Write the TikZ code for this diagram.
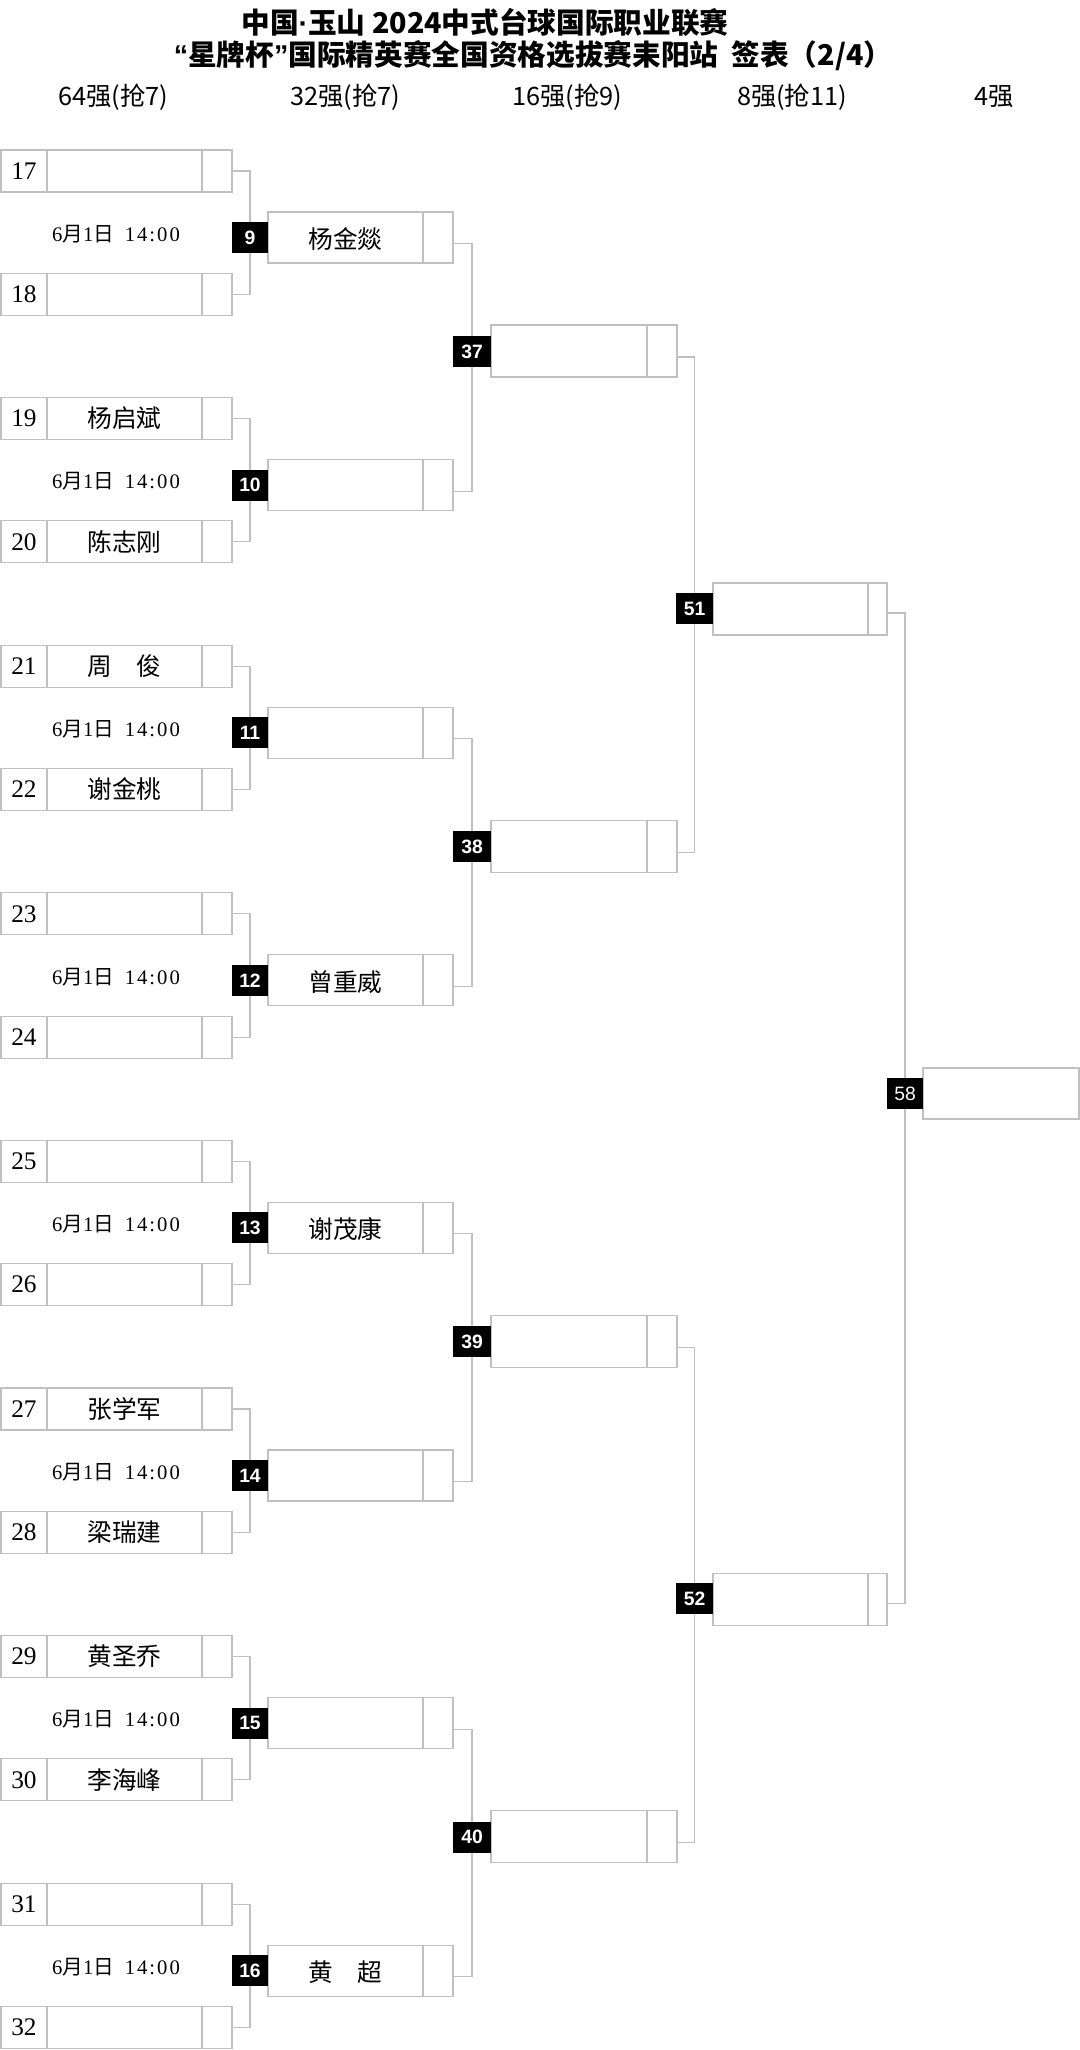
\documentclass[tikz,border=0pt]{standalone}
\usepackage{fontspec}
\setmainfont{Liberation Serif}
\newfontfamily\cjk{Noto Sans CJK SC}
\newfontfamily\arialf{Liberation Sans}
\usetikzlibrary{calc}
\pgfdeclarelayer{paper}
\pgfdeclarelayer{wires}
\pgfsetlayers{paper,wires,main}
\definecolor{lineg}{RGB}{192,192,192}
\tikzset{
  frame/.style={draw=lineg, line width=0.8pt, rectangle, inner sep=0pt, outer sep=0pt, anchor=north west},
  divl/.style={draw=lineg, line width=0.8pt},
  conn/.style={draw=lineg, line width=0.8pt},
  badge/.style={fill=black, text=white, inner sep=0pt, outer sep=0pt, minimum height=23.25pt, anchor=center,
    font=\arialf\bfseries\fontsize{14.5}{14.5}\selectfont},
  nametxt/.style={inner sep=0pt, font=\cjk\fontsize{18.5}{18.5}\selectfont},
  numtxt/.style={inner sep=0pt, font=\fontsize{19}{19}\selectfont},
  datetxt/.style={inner sep=0pt, font=\fontsize{15.5}{15.5}\selectfont},
  headtxt/.style={inner sep=0pt, font=\cjk\fontsize{19}{19}\selectfont},
  titletxt/.style={inner sep=0pt, font=\cjk\bfseries\fontsize{21.5}{21.5}\selectfont}
}
\begin{document}
\begin{tikzpicture}[x=0.75pt,y=-0.75pt]
\begin{pgfonlayer}{paper}
\fill[white] (0,0) rectangle (1080,2050);
\end{pgfonlayer}
\useasboundingbox (0,0) rectangle (1080,2050);

% titles
\node[titletxt] (t1) at (485,22) {中国{\arialf\bfseries ·}玉山 2024中式台球国际职业联赛};
\node[titletxt] (t2) at (533,56) {{\arialf\bfseries “}星牌杯{\arialf\bfseries ”}国际精英赛全国资格选拔赛耒阳站\ \ 签表（2/4）};

% headers
\node[headtxt] (h1) at (113,97) {64强(抢7)};
\node[headtxt] (h2) at (345,97) {32强(抢7)};
\node[headtxt] (h3) at (567,97) {16强(抢9)};
\node[headtxt] (h4) at (792,97) {8强(抢11)};
\node[headtxt] (h5) at (994,97) {4强};

% round 1
\foreach \n/\nm [count=\i from 0] in {17/{},18/{},19/杨启斌,20/陈志刚,21/周　俊,22/谢金桃,23/{},24/{},25/{},26/{},27/张学军,28/梁瑞建,29/黄圣乔,30/李海峰,31/{},32/{}}{
  \pgfmathsetmacro\py{150+floor(\i/2)*247.6+mod(\i,2)*123.3}
  \node[frame, minimum width=173.25pt, minimum height=31.5pt] (p\n) at (1,\py) {};
  \draw[divl] (47,\py) -- (47,\py+42);
  \draw[divl] (202,\py) -- (202,\py+42);
  \node[numtxt] (pn\n) at (24,\py+21) {\n};
  \node[nametxt] (pm\n) at (124.5,\py+21) {\nm};
}

% dates
\foreach \j in {0,...,7}{
  \pgfmathsetmacro\dy{234+\j*247.6}
  \node[datetxt] (d\j) at (116,\dy) {6{\cjk 月}1{\cjk 日}\hspace{8pt}1\hspace{1.5pt}4\hspace{1.5pt}:\hspace{1.5pt}0\hspace{1.5pt}0};
}

% round 2
\foreach \m/\nm [count=\j from 0] in {9/杨金燚,10/{},11/{},12/曾重威,13/谢茂康,14/{},15/{},16/黄　超}{
  \pgfmathsetmacro\py{212+\j*247.6}
  \node[frame, minimum width=138.75pt, minimum height=38.25pt] (m\m) at (268,\py) {};
  \draw[divl] (423,\py) -- (423,\py+51);
  \node[nametxt] (mm\m) at (345.5,\py+27) {\nm};
  \node[badge, minimum width=27pt] (b\m) at (250,\py+25.5) {\m};
}

% round 3
\foreach \r [count=\k from 0] in {37,38,39,40}{
  \pgfmathsetmacro\py{325+\k*495.2}
  \node[frame, minimum width=139.5pt, minimum height=39pt] (r\r) at (491,\py) {};
  \draw[divl] (647,\py) -- (647,\py+52);
  \node[badge, minimum width=28.5pt] (b\r) at (472,\py+26.5) {\r};
}

% round 4
\foreach \q [count=\l from 0] in {51,52}{
  \pgfmathsetmacro\py{583+\l*990.4}
  \node[frame, minimum width=130.5pt, minimum height=39pt] (q\q) at (713,\py) {};
  \draw[divl] (868,\py) -- (868,\py+52);
  \node[badge, minimum width=27.75pt] (b\q) at (694.5,\py+25.5) {\q};
}

% round 5
\node[frame, minimum width=117pt, minimum height=38.25pt] (f58) at (923,1068) {};
\node[badge, minimum width=27pt, font=\arialf\fontsize{14.5}{14.5}\selectfont] (b58) at (905,1093.5) {58};

% connectors
\begin{pgfonlayer}{wires}
  \foreach \j in {0,...,7}{
    \pgfmathtruncatemacro\a{17+2*\j}
    \pgfmathtruncatemacro\b{18+2*\j}
    \pgfmathtruncatemacro\m{9+\j}
    \draw[conn] (p\a.east) -| (b\m.center);
    \draw[conn] (p\b.east) -| (b\m.center);
  }
  \foreach \k in {0,...,3}{
    \pgfmathtruncatemacro\a{9+2*\k}
    \pgfmathtruncatemacro\b{10+2*\k}
    \pgfmathtruncatemacro\r{37+\k}
    \draw[conn] ($(m\a.east)+(0,6)$) -| (b\r.center);
    \draw[conn] ($(m\b.east)+(0,6)$) -| (b\r.center);
  }
  \foreach \l in {0,1}{
    \pgfmathtruncatemacro\a{37+2*\l}
    \pgfmathtruncatemacro\b{38+2*\l}
    \pgfmathtruncatemacro\q{51+\l}
    \draw[conn] ($(r\a.east)+(0,6)$) -| (b\q.center);
    \draw[conn] ($(r\b.east)+(0,6)$) -| (b\q.center);
  }
  \draw[conn] ($(q51.east)+(0,4)$) -| (b58.center);
  \draw[conn] ($(q52.east)+(0,4)$) -| (b58.center);
\end{pgfonlayer}
\end{tikzpicture}
\end{document}
